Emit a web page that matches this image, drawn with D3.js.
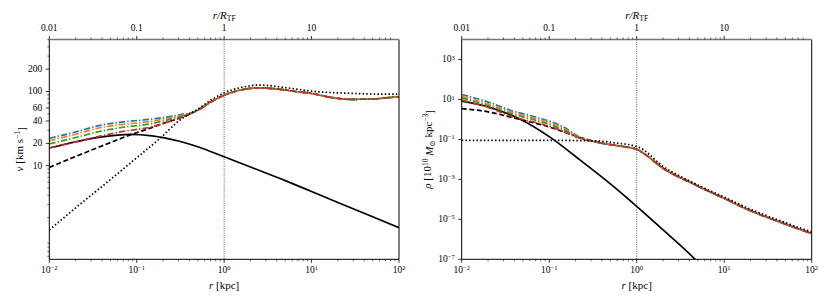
<!DOCTYPE html>
<html>
<head>
<meta charset="utf-8">
<script src="https://cdn.jsdelivr.net/npm/d3@7"></script>
<style>
  body { margin: 0; background: #fff; }
  text { font-family: "Liberation Serif", "DejaVu Serif", serif; fill: #000; }
</style>
</head>
<body>
<svg id="chart" width="830" height="302"></svg>
<script>
// ---- data (r in kpc) ----
const xMajor = [0.01, 0.1, 1, 10, 100];
const topLabels = ['0.01', '0.1', '1', '10'];
const vTicks = [10, 20, 40, 60, 100, 200];
const rhoTicks = [1e-7, 1e-5, 1e-3, 1e-1, 1e1, 1e3];

// rotation curves, v [km/s]
const vBundle = [[0.45, 53], [0.5, 56], [0.7, 72], [1, 89], [1.5, 104], [2, 110], [2.4, 112], [3, 111],
  [4.4, 107], [7, 99], [10, 94], [16, 84], [28, 78.5], [50, 79], [70, 82], [100, 85]];
const vBlueHead = [[0.01, 23.4], [0.02, 28.5], [0.038, 35], [0.07, 39], [0.142, 42.2], [0.2, 44.5], [0.31, 48.5]];
const vOrangeHead = [[0.01, 21.7], [0.02, 26.5], [0.038, 32.5], [0.07, 36], [0.142, 39.5], [0.2, 42.5], [0.31, 47]];
const vGreenHead = [[0.01, 19.6], [0.02, 24], [0.038, 29], [0.07, 33], [0.142, 36.5], [0.2, 40], [0.31, 45.5]];
const vRedHead = [[0.01, 17.3], [0.02, 21], [0.038, 25], [0.07, 29], [0.142, 33], [0.2, 37], [0.31, 44]];
const vDashed = [[0.01, 9.5], [0.02, 13.3], [0.05, 20.5], [0.084, 26], [0.142, 32], [0.2, 37], [0.31, 44],
  [0.45, 52.5], [0.5, 56], [0.7, 72], [1, 89], [1.5, 104], [2, 110], [2.4, 112], [3, 111], [4.4, 107],
  [7, 99], [10, 94], [16, 84], [28, 78.5], [50, 79], [70, 82], [100, 85]];
const vSolid = [[0.01, 17.3], [0.02, 21], [0.04, 24.5], [0.084, 26.5], [0.15, 25.3], [0.3, 21.5], [0.5, 18],
  [1, 13.2], [2, 9.6], [5, 6.3], [10, 4.5], [20, 3.2], [50, 2.05], [100, 1.46]];
const vDotted = [[0.01, 1.36], [0.02, 2.7], [0.05, 6.5], [0.1, 12.8], [0.185, 23.4], [0.31, 41], [0.5, 58],
  [0.7, 76], [1, 96], [1.5, 112], [2, 119], [2.4, 122], [3, 121], [5, 113], [7, 107], [10, 101], [16, 97],
  [28, 94.5], [50, 92.5], [100, 92]];

// density profiles, rho [1e10 Msun/kpc^3]
const rhoBundle = [[0.25, 0.1], [0.3, 0.085], [0.38, 0.068], [0.5, 0.055], [0.7, 0.044], [1, 0.032],
  [1.2, 0.02], [1.41, 0.012], [1.7, 0.0062], [2, 3.6e-3], [2.5, 2.0e-3], [3.1, 1.25e-3], [4, 7.5e-4],
  [5.3, 4e-4], [7, 2.3e-4], [8.6, 1.5e-4], [10, 1.12e-4], [16.5, 3.9e-5], [25, 1.8e-5], [40, 8.3e-6],
  [60, 4.3e-6], [100, 1.96e-6]];
const rhoBlueHead = [[0.01, 17.7], [0.02, 7.5], [0.036, 2.9], [0.07, 1.3], [0.11, 0.71], [0.16, 0.33], [0.2, 0.17]];
const rhoOrangeHead = [[0.01, 14], [0.02, 6], [0.036, 2.4], [0.07, 1.1], [0.11, 0.6], [0.16, 0.29], [0.2, 0.155]];
const rhoGreenHead = [[0.01, 12], [0.02, 5], [0.036, 2.0], [0.07, 0.9], [0.11, 0.5], [0.16, 0.25], [0.2, 0.145]];
const rhoRedHead = [[0.01, 9.2], [0.02, 4], [0.036, 1.5], [0.07, 0.7], [0.11, 0.4], [0.16, 0.21], [0.2, 0.135]];
const rhoDashed = [[0.01, 3.5], [0.02, 2.4], [0.046, 1.0], [0.06, 0.76], [0.1, 0.42], [0.17, 0.19], [0.25, 0.11],
  [0.3, 0.088], [0.38, 0.068], [0.5, 0.055], [0.7, 0.044], [1, 0.032], [1.2, 0.02], [1.41, 0.012],
  [1.7, 0.0062], [2, 3.6e-3], [2.5, 2.0e-3], [3.1, 1.25e-3], [4, 7.5e-4], [5.3, 4e-4], [7, 2.3e-4],
  [8.6, 1.5e-4], [10, 1.12e-4], [16.5, 3.9e-5], [25, 1.8e-5], [40, 8.3e-6], [60, 4.3e-6], [100, 1.96e-6]];
const rhoSolid = [[0.01, 8.3], [0.02, 4.3], [0.046, 1.05], [0.111, 0.1], [0.2, 0.014], [0.5, 6e-4], [1, 4.5e-5],
  [2, 3e-6], [4.64, 1e-7], [5.5, 4.5e-8]];
const rhoDotted = [[0.01, 0.09], [0.1, 0.09], [0.2, 0.088], [0.38, 0.082], [0.6, 0.065], [1, 0.044], [1.2, 0.03],
  [1.41, 0.017], [1.7, 0.008], [2, 4.5e-3], [3, 1.6e-3], [5.3, 4.6e-4], [10, 1.3e-4], [20, 3.2e-5],
  [40, 9.8e-6], [100, 2.3e-6]];

const colors = ['#1f77b4', '#ff7f0e', '#2ca02c', '#d62728'];

const svg = d3.select('#chart');
const plotTop = 39.5, plotBottom = 259.3;

function powLabel(sel, exp) {
  sel.text('10');
  sel.append('tspan').attr('dy', '-0.45em').attr('font-size', '6.5px').text(exp);
}

function drawPanel(cfg) {
  const x = d3.scaleLog().domain([0.01, 100]).range([cfg.left, cfg.right]);
  const y = d3.scaleLog().domain(cfg.yDomain).range([plotBottom, plotTop]);
  const g = svg.append('g');

  const clipId = 'clip-' + cfg.name;
  svg.append('clipPath').attr('id', clipId)
    .append('rect')
    .attr('x', cfg.left).attr('y', plotTop)
    .attr('width', cfg.right - cfg.left).attr('height', plotBottom - plotTop);

  const plot = g.append('g').attr('clip-path', `url(#${clipId})`);

  // vertical marker at r = R_TF
  plot.append('line')
    .attr('x1', x(1)).attr('x2', x(1))
    .attr('y1', plotTop).attr('y2', plotBottom)
    .attr('stroke', '#333').attr('stroke-width', 0.8)
    .attr('stroke-dasharray', '1,1.3');

  const line = d3.line()
    .x(d => x(d[0]))
    .y(d => y(d[1]))
    .curve(d3.curveMonotoneX);

  const drawLine = (data, color, dash, width) => {
    plot.append('path')
      .datum(data)
      .attr('fill', 'none')
      .attr('stroke', color)
      .attr('stroke-width', width)
      .attr('stroke-dasharray', dash)
      .attr('d', line);
  };

  drawLine(cfg.solid, '#000', null, 1.7);
  drawLine(cfg.dashed, '#000', '5,2.6', 1.7);
  cfg.colored.forEach((d, i) => drawLine(d, colors[i], '6.5,2,1.4,2', 1.7));
  drawLine(cfg.dotted, '#000', '1.5,2.2', 1.7);

  // frame: left, bottom, right black; top gray
  g.append('line').attr('x1', cfg.left).attr('x2', cfg.left).attr('y1', plotTop).attr('y2', plotBottom)
    .attr('stroke', '#000').attr('stroke-width', 1);
  g.append('line').attr('x1', cfg.right).attr('x2', cfg.right).attr('y1', plotTop).attr('y2', plotBottom)
    .attr('stroke', '#000').attr('stroke-width', 1);
  g.append('line').attr('x1', cfg.left).attr('x2', cfg.right).attr('y1', plotBottom).attr('y2', plotBottom)
    .attr('stroke', '#000').attr('stroke-width', 1);
  g.append('line').attr('x1', cfg.left).attr('x2', cfg.right).attr('y1', plotTop).attr('y2', plotTop)
    .attr('stroke', '#777').attr('stroke-width', 1.6);

  const xMinor = x.ticks().filter(t => !xMajor.some(m => Math.abs(m - t) / m < 1e-6));

  // bottom axis
  const bx = g.append('g');
  bx.selectAll('.maj').data(xMajor).join('line')
    .attr('x1', d => x(d)).attr('x2', d => x(d))
    .attr('y1', plotBottom).attr('y2', plotBottom + 3.5)
    .attr('stroke', '#000').attr('stroke-width', 0.8);
  bx.selectAll('.min').data(xMinor).join('line')
    .attr('x1', d => x(d)).attr('x2', d => x(d))
    .attr('y1', plotBottom).attr('y2', plotBottom + 2)
    .attr('stroke', '#000').attr('stroke-width', 0.6);
  bx.selectAll('text').data(xMajor).join('text')
    .attr('x', d => x(d)).attr('y', plotBottom + 14)
    .attr('text-anchor', 'middle').attr('font-size', '9.5px')
    .each(function (d) {
      const e = Math.round(Math.log10(d));
      powLabel(d3.select(this), e < 0 ? '\u2212' + (-e) : String(e));
    });
  const xl = g.append('text')
    .attr('x', (cfg.left + cfg.right) / 2).attr('y', plotBottom + 30)
    .attr('text-anchor', 'middle').attr('font-size', '11px');
  xl.append('tspan').attr('font-style', 'italic').text('r');
  xl.append('tspan').text(' [kpc]');

  // top axis r / R_TF (R_TF = 1 kpc)
  const tx = g.append('g');
  tx.selectAll('.maj').data(xMajor.slice(0, 4)).join('line')
    .attr('x1', d => x(d)).attr('x2', d => x(d))
    .attr('y1', plotTop).attr('y2', plotTop - 3.5)
    .attr('stroke', '#000').attr('stroke-width', 0.8);
  tx.selectAll('.min').data(xMinor.filter(t => t < 90)).join('line')
    .attr('x1', d => x(d)).attr('x2', d => x(d))
    .attr('y1', plotTop).attr('y2', plotTop - 2)
    .attr('stroke', '#000').attr('stroke-width', 0.6);
  tx.selectAll('text').data(topLabels).join('text')
    .attr('x', (d, i) => x(xMajor[i])).attr('y', plotTop - 9)
    .attr('text-anchor', 'middle').attr('font-size', '9.5px')
    .text(d => d);
  const tl = g.append('text')
    .attr('x', x(1)).attr('y', plotTop - 21)
    .attr('text-anchor', 'middle').attr('font-size', '11px');
  tl.append('tspan').attr('font-style', 'italic').text('r/R');
  tl.append('tspan').attr('dy', '0.3em').attr('font-size', '7.5px').text('TF');

  // left axis
  const ly = g.append('g');
  ly.selectAll('.maj').data(cfg.yTicks).join('line')
    .attr('x1', cfg.left).attr('x2', cfg.left - 3.5)
    .attr('y1', d => y(d)).attr('y2', d => y(d))
    .attr('stroke', '#000').attr('stroke-width', 0.8);
  ly.selectAll('.min').data(cfg.yMinor).join('line')
    .attr('x1', cfg.left).attr('x2', cfg.left - 2)
    .attr('y1', d => y(d)).attr('y2', d => y(d))
    .attr('stroke', '#000').attr('stroke-width', 0.6);
  ly.selectAll('text').data(cfg.yTicks).join('text')
    .attr('x', cfg.left - 7).attr('y', d => y(d) + 3)
    .attr('text-anchor', 'end').attr('font-size', '9.5px')
    .each(function (d) { cfg.yFormat(d3.select(this), d); });

  const yl = g.append('text')
    .attr('transform', `translate(${cfg.yLabelX},${(plotTop + plotBottom) / 2}) rotate(-90)`)
    .attr('text-anchor', 'middle').attr('font-size', '11px');
  cfg.yLabel(yl);
}

// left panel: velocity
const vDomain = [0.548, 502];
const vMinor = d3.scaleLog().domain(vDomain).ticks()
  .filter(t => !vTicks.some(m => Math.abs(m - t) / m < 1e-6) && Math.abs(Math.log10(t) % 1) > 1e-6);

drawPanel({
  name: 'v',
  left: 49.3, right: 399,
  yDomain: vDomain,
  yTicks: vTicks,
  yMinor: vMinor,
  yFormat: (sel, d) => sel.text(d),
  yLabelX: 23,
  yLabel: sel => {
    sel.append('tspan').attr('font-style', 'italic').text('v');
    sel.append('tspan').text(' [km s');
    sel.append('tspan').attr('dy', '-0.45em').attr('font-size', '7.5px').text('\u22121');
    sel.append('tspan').attr('dy', '0.45em').text(']');
  },
  solid: vSolid,
  dashed: vDashed,
  dotted: vDotted,
  colored: [vBlueHead.concat(vBundle), vOrangeHead.concat(vBundle), vGreenHead.concat(vBundle), vRedHead.concat(vBundle)]
});

// right panel: density
drawPanel({
  name: 'rho',
  left: 461.7, right: 811.7,
  yDomain: [1e-7, 1e4],
  yTicks: rhoTicks,
  yMinor: [],
  yFormat: (sel, d) => {
    const e = Math.round(Math.log10(d));
    powLabel(sel, e < 0 ? '\u2212' + (-e) : String(e));
  },
  yLabelX: 431,
  yLabel: sel => {
    sel.append('tspan').attr('font-style', 'italic').text('\u03c1');
    sel.append('tspan').text(' [10');
    sel.append('tspan').attr('dy', '-0.45em').attr('font-size', '7.5px').text('10');
    sel.append('tspan').attr('dy', '0.45em').attr('font-style', 'italic').text(' M');
    sel.append('tspan').attr('dy', '0.3em').attr('font-size', '7.5px').text('\u2299');
    sel.append('tspan').attr('dy', '-0.3em').text(' kpc');
    sel.append('tspan').attr('dy', '-0.45em').attr('font-size', '7.5px').text('\u22123');
    sel.append('tspan').attr('dy', '0.45em').text(']');
  },
  solid: rhoSolid,
  dashed: rhoDashed,
  dotted: rhoDotted,
  colored: [rhoBlueHead.concat(rhoBundle), rhoOrangeHead.concat(rhoBundle), rhoGreenHead.concat(rhoBundle), rhoRedHead.concat(rhoBundle)]
});
</script>
</body>
</html>
